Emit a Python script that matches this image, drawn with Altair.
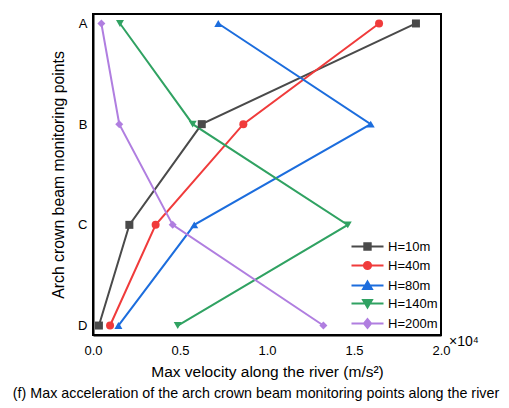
import altair as alt
import pandas as pd

points = ["A", "B", "C", "D"]
series = ["H=10m", "H=40m", "H=80m", "H=140m", "H=200m"]
# Max values in units of 10^4 (A, B, C, D)
h10 = [1.856, 0.625, 0.209, 0.034]
h40 = [1.644, 0.864, 0.360, 0.098]
h80 = [0.720, 1.596, 0.582, 0.146]
h140 = [0.155, 0.573, 1.464, 0.487]
h200 = [0.048, 0.151, 0.458, 1.324]

colors = ["#4a4a4a", "#f03b3b", "#1c6ddd", "#30a262", "#b07ee0"]
shapes = ["square", "circle", "triangle-up", "triangle-down", "diamond"]
line_seg = "M-4,0H4"
legend_shapes = [
    line_seg + "M-0.8,-0.8H0.8V0.8H-0.8Z",
    line_seg + "M-0.9,0A0.9,0.9 0 1,0 0.9,0A0.9,0.9 0 1,0 -0.9,0Z",
    line_seg + "M0,-1L1.1,0.85H-1.1Z",
    line_seg + "M0,1L1.1,-0.85H-1.1Z",
    line_seg + "M0,-1.1L0.9,0L0,1.1L-0.9,0Z",
]
caption = "(f) Max acceleration of the arch crown beam monitoring points along the river"
FONT = "Liberation Sans"

rows = []
for name, vals in zip(series, [h10, h40, h80, h140, h200]):
    for i, (p, v) in enumerate(zip(points, vals)):
        rows.append({"H": name, "point": p, "idx": i, "x": v})
df = pd.DataFrame(rows)

W, H = 348, 321

x_scale = alt.Scale(domain=[0, 2], nice=False, zero=False)
y_scale = alt.Scale(type="point", padding=0.094)

x_enc = alt.X(
    "x:Q",
    scale=x_scale,
    axis=alt.Axis(
        values=[0, 0.5, 1, 1.5, 2], format=".1f", ticks=False, domain=True,
        domainColor="black", domainWidth=2,
        grid=False, labelPadding=9, labelFontSize=13, labelFlush=False,
        titleFontSize=15.5, titleFontWeight="normal", titlePadding=7,
        title="Max velocity along the river (m/s²)",
    ),
)
y_enc = alt.Y(
    "point:N",
    sort=points,
    scale=y_scale,
    axis=alt.Axis(
        ticks=False, domain=True, domainColor="black", domainWidth=2,
        grid=False, labelPadding=6, labelAngle=0,
        labelFontSize=13, titleFontSize=15.8, titleFontWeight="normal",
        titlePadding=11, title="Arch crown beam monitoring points",
    ),
)
color_enc = alt.Color("H:N", scale=alt.Scale(domain=series, range=colors), legend=None)

base = alt.Chart(df)

lines = base.mark_line(strokeWidth=2).encode(
    x=x_enc, y=y_enc, color=color_enc, detail="H:N", order="idx:Q"
)
pt_layers = [
    base.transform_filter(alt.datum.H == name)
    .mark_point(filled=True, shape=shp, size=64, opacity=1)
    .encode(x=x_enc, y=y_enc, color=color_enc)
    for name, shp in zip(series, shapes)
]

leg = alt.Legend(
    title=None, orient="none", legendX=268, legendY=226, symbolSize=64,
    symbolStrokeWidth=2, symbolOpacity=1, labelFontSize=13, labelOffset=14,
    rowPadding=3, labelFont=FONT, labelColor="black",
)
legend_layer = base.mark_point(opacity=0, size=64).encode(
    x=x_enc, y=y_enc,
    fill=alt.Fill("H:N", scale=alt.Scale(domain=series, range=colors), legend=leg),
    stroke=alt.Stroke("H:N", scale=alt.Scale(domain=series, range=colors), legend=leg),
    shape=alt.Shape("H:N", scale=alt.Scale(domain=series, range=legend_shapes), legend=leg),
)

one = alt.Data(values=[{"a": 1}])
frame = alt.Chart(one).mark_rect(
    fill="white", fillOpacity=0, stroke="black", strokeWidth=2
).encode(x=alt.value(0), x2=alt.value(W), y=alt.value(0), y2=alt.value(H))
rule_top = alt.Chart(one).mark_rule(color="black", strokeWidth=2).encode(
    x=alt.value(0), x2=alt.value(W), y=alt.value(0)
)
rule_right = alt.Chart(one).mark_rule(color="black", strokeWidth=2).encode(
    x=alt.value(W), y=alt.value(0), y2=alt.value(H)
)

exp_text = alt.Chart(one).mark_text(
    text="×10⁴", align="left", baseline="middle", fontSize=14, font=FONT, color="black"
).encode(x=alt.value(356), y=alt.value(328))

cap_text = alt.Chart(one).mark_text(
    text=caption, align="center", baseline="middle", fontSize=14.3, font=FONT, color="black"
).encode(x=alt.value(W / 2 - 11), y=alt.value(380))

chart = alt.layer(
    legend_layer, frame, rule_top, rule_right, lines, *pt_layers, exp_text, cap_text
).properties(
    width=W, height=H,
    autosize=alt.AutoSizeParams(type="none"),
    padding={"left": 93, "top": 14, "right": 68, "bottom": 73},
).configure_view(
    stroke="black", strokeWidth=2
).configure_axis(
    labelFont=FONT, titleFont=FONT, labelColor="black", titleColor="black"
)

chart.save("out.html", embed_options={"renderer": "svg", "actions": False})
